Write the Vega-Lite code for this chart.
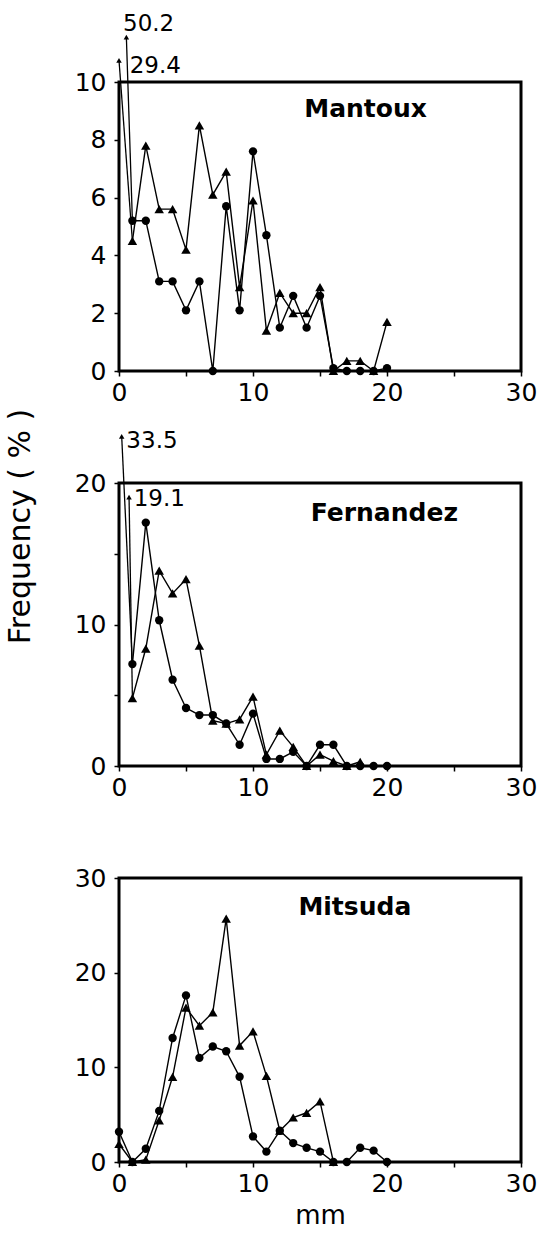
{
  "$schema": "https://vega.github.io/schema/vega-lite/v6.json",
  "padding": {"left": 3, "top": 11, "right": 5, "bottom": 0},
  "background": "white",
  "bounds": "flush",
  "spacing": 112,
  "config": {
    "font": "DejaVu Sans",
    "view": {"stroke": "black", "strokeWidth": 3},
    "axis": {"grid": false, "domain": false, "tickColor": "black", "tickWidth": 1.5, "tickSize": 5, "labelColor": "black", "labelFontSize": 25, "labelFont": "DejaVu Sans", "labelOverlap": false, "labelFlush": false, "titleColor": "black", "titleFontWeight": "normal", "titleFont": "DejaVu Sans"},
    "axisY": {"labelPadding": 8},
    "axisX": {"labelPadding": 4}
  },
  "datasets": {
    "freq": [
      {"panel":"Mantoux","group":"Group 1","mm":0,"freq":50.2},{"panel":"Mantoux","group":"Group 1","mm":1,"freq":5.2},{"panel":"Mantoux","group":"Group 1","mm":2,"freq":5.2},{"panel":"Mantoux","group":"Group 1","mm":3,"freq":3.1},{"panel":"Mantoux","group":"Group 1","mm":4,"freq":3.1},{"panel":"Mantoux","group":"Group 1","mm":5,"freq":2.1},{"panel":"Mantoux","group":"Group 1","mm":6,"freq":3.1},{"panel":"Mantoux","group":"Group 1","mm":7,"freq":0},{"panel":"Mantoux","group":"Group 1","mm":8,"freq":5.7},{"panel":"Mantoux","group":"Group 1","mm":9,"freq":2.1},{"panel":"Mantoux","group":"Group 1","mm":10,"freq":7.6},{"panel":"Mantoux","group":"Group 1","mm":11,"freq":4.7},{"panel":"Mantoux","group":"Group 1","mm":12,"freq":1.5},{"panel":"Mantoux","group":"Group 1","mm":13,"freq":2.6},{"panel":"Mantoux","group":"Group 1","mm":14,"freq":1.5},{"panel":"Mantoux","group":"Group 1","mm":15,"freq":2.6},{"panel":"Mantoux","group":"Group 1","mm":16,"freq":0.1},{"panel":"Mantoux","group":"Group 1","mm":17,"freq":0},{"panel":"Mantoux","group":"Group 1","mm":18,"freq":0},{"panel":"Mantoux","group":"Group 1","mm":19,"freq":0},{"panel":"Mantoux","group":"Group 1","mm":20,"freq":0.1},
      {"panel":"Mantoux","group":"Group 2","mm":0,"freq":29.4},{"panel":"Mantoux","group":"Group 2","mm":1,"freq":4.5},{"panel":"Mantoux","group":"Group 2","mm":2,"freq":7.8},{"panel":"Mantoux","group":"Group 2","mm":3,"freq":5.6},{"panel":"Mantoux","group":"Group 2","mm":4,"freq":5.6},{"panel":"Mantoux","group":"Group 2","mm":5,"freq":4.2},{"panel":"Mantoux","group":"Group 2","mm":6,"freq":8.5},{"panel":"Mantoux","group":"Group 2","mm":7,"freq":6.1},{"panel":"Mantoux","group":"Group 2","mm":8,"freq":6.9},{"panel":"Mantoux","group":"Group 2","mm":9,"freq":2.9},{"panel":"Mantoux","group":"Group 2","mm":10,"freq":5.9},{"panel":"Mantoux","group":"Group 2","mm":11,"freq":1.4},{"panel":"Mantoux","group":"Group 2","mm":12,"freq":2.7},{"panel":"Mantoux","group":"Group 2","mm":13,"freq":2.0},{"panel":"Mantoux","group":"Group 2","mm":14,"freq":2.0},{"panel":"Mantoux","group":"Group 2","mm":15,"freq":2.9},{"panel":"Mantoux","group":"Group 2","mm":16,"freq":0},{"panel":"Mantoux","group":"Group 2","mm":17,"freq":0.35},{"panel":"Mantoux","group":"Group 2","mm":18,"freq":0.35},{"panel":"Mantoux","group":"Group 2","mm":19,"freq":0},{"panel":"Mantoux","group":"Group 2","mm":20,"freq":1.7},
      {"panel":"Fernandez","group":"Group 1","mm":0,"freq":33.5},{"panel":"Fernandez","group":"Group 1","mm":1,"freq":7.2},{"panel":"Fernandez","group":"Group 1","mm":2,"freq":17.2},{"panel":"Fernandez","group":"Group 1","mm":3,"freq":10.3},{"panel":"Fernandez","group":"Group 1","mm":4,"freq":6.1},{"panel":"Fernandez","group":"Group 1","mm":5,"freq":4.1},{"panel":"Fernandez","group":"Group 1","mm":6,"freq":3.6},{"panel":"Fernandez","group":"Group 1","mm":7,"freq":3.6},{"panel":"Fernandez","group":"Group 1","mm":8,"freq":3.0},{"panel":"Fernandez","group":"Group 1","mm":9,"freq":1.5},{"panel":"Fernandez","group":"Group 1","mm":10,"freq":3.7},{"panel":"Fernandez","group":"Group 1","mm":11,"freq":0.5},{"panel":"Fernandez","group":"Group 1","mm":12,"freq":0.5},{"panel":"Fernandez","group":"Group 1","mm":13,"freq":1.0},{"panel":"Fernandez","group":"Group 1","mm":14,"freq":0},{"panel":"Fernandez","group":"Group 1","mm":15,"freq":1.5},{"panel":"Fernandez","group":"Group 1","mm":16,"freq":1.5},{"panel":"Fernandez","group":"Group 1","mm":17,"freq":0},{"panel":"Fernandez","group":"Group 1","mm":18,"freq":0},{"panel":"Fernandez","group":"Group 1","mm":19,"freq":0},{"panel":"Fernandez","group":"Group 1","mm":20,"freq":0},
      {"panel":"Fernandez","group":"Group 2","mm":0,"freq":19.1},{"panel":"Fernandez","group":"Group 2","mm":1,"freq":4.8},{"panel":"Fernandez","group":"Group 2","mm":2,"freq":8.3},{"panel":"Fernandez","group":"Group 2","mm":3,"freq":13.8},{"panel":"Fernandez","group":"Group 2","mm":4,"freq":12.2},{"panel":"Fernandez","group":"Group 2","mm":5,"freq":13.2},{"panel":"Fernandez","group":"Group 2","mm":6,"freq":8.5},{"panel":"Fernandez","group":"Group 2","mm":7,"freq":3.2},{"panel":"Fernandez","group":"Group 2","mm":8,"freq":3.0},{"panel":"Fernandez","group":"Group 2","mm":9,"freq":3.3},{"panel":"Fernandez","group":"Group 2","mm":10,"freq":4.9},{"panel":"Fernandez","group":"Group 2","mm":11,"freq":0.8},{"panel":"Fernandez","group":"Group 2","mm":12,"freq":2.5},{"panel":"Fernandez","group":"Group 2","mm":13,"freq":1.35},{"panel":"Fernandez","group":"Group 2","mm":14,"freq":0},{"panel":"Fernandez","group":"Group 2","mm":15,"freq":0.8},{"panel":"Fernandez","group":"Group 2","mm":16,"freq":0.35},{"panel":"Fernandez","group":"Group 2","mm":17,"freq":0},{"panel":"Fernandez","group":"Group 2","mm":18,"freq":0.3},
      {"panel":"Mitsuda","group":"Group 1","mm":0,"freq":3.2},{"panel":"Mitsuda","group":"Group 1","mm":1,"freq":0},{"panel":"Mitsuda","group":"Group 1","mm":2,"freq":1.4},{"panel":"Mitsuda","group":"Group 1","mm":3,"freq":5.4},{"panel":"Mitsuda","group":"Group 1","mm":4,"freq":13.1},{"panel":"Mitsuda","group":"Group 1","mm":5,"freq":17.6},{"panel":"Mitsuda","group":"Group 1","mm":6,"freq":11.0},{"panel":"Mitsuda","group":"Group 1","mm":7,"freq":12.2},{"panel":"Mitsuda","group":"Group 1","mm":8,"freq":11.7},{"panel":"Mitsuda","group":"Group 1","mm":9,"freq":9.0},{"panel":"Mitsuda","group":"Group 1","mm":10,"freq":2.7},{"panel":"Mitsuda","group":"Group 1","mm":11,"freq":1.1},{"panel":"Mitsuda","group":"Group 1","mm":12,"freq":3.3},{"panel":"Mitsuda","group":"Group 1","mm":13,"freq":2.0},{"panel":"Mitsuda","group":"Group 1","mm":14,"freq":1.5},{"panel":"Mitsuda","group":"Group 1","mm":15,"freq":1.1},{"panel":"Mitsuda","group":"Group 1","mm":16,"freq":0},{"panel":"Mitsuda","group":"Group 1","mm":17,"freq":0},{"panel":"Mitsuda","group":"Group 1","mm":18,"freq":1.5},{"panel":"Mitsuda","group":"Group 1","mm":19,"freq":1.2},{"panel":"Mitsuda","group":"Group 1","mm":20,"freq":0},
      {"panel":"Mitsuda","group":"Group 2","mm":0,"freq":1.9},{"panel":"Mitsuda","group":"Group 2","mm":1,"freq":0},{"panel":"Mitsuda","group":"Group 2","mm":2,"freq":0.25},{"panel":"Mitsuda","group":"Group 2","mm":3,"freq":4.4},{"panel":"Mitsuda","group":"Group 2","mm":4,"freq":9.0},{"panel":"Mitsuda","group":"Group 2","mm":5,"freq":16.3},{"panel":"Mitsuda","group":"Group 2","mm":6,"freq":14.4},{"panel":"Mitsuda","group":"Group 2","mm":7,"freq":15.8},{"panel":"Mitsuda","group":"Group 2","mm":8,"freq":25.7},{"panel":"Mitsuda","group":"Group 2","mm":9,"freq":12.3},{"panel":"Mitsuda","group":"Group 2","mm":10,"freq":13.8},{"panel":"Mitsuda","group":"Group 2","mm":11,"freq":9.1},{"panel":"Mitsuda","group":"Group 2","mm":12,"freq":3.3},{"panel":"Mitsuda","group":"Group 2","mm":13,"freq":4.7},{"panel":"Mitsuda","group":"Group 2","mm":14,"freq":5.2},{"panel":"Mitsuda","group":"Group 2","mm":15,"freq":6.4},{"panel":"Mitsuda","group":"Group 2","mm":16,"freq":0}
    ],
    "arrows": [
      {"panel":"Mantoux","x":1,"y":4.5,"x2":0,"y2":10.75},
      {"panel":"Mantoux","x":1,"y":5.2,"x2":0.55,"y2":11.55},
      {"panel":"Fernandez","x":1,"y":7.2,"x2":0.2,"y2":23.3},
      {"panel":"Fernandez","x":1,"y":4.8,"x2":0.75,"y2":19.0}
    ],
    "labels": [
      {"panel":"Mantoux","x":0.8,"y":10.3,"text":"29.4"},
      {"panel":"Mantoux","x":0.3,"y":11.76,"text":"50.2"},
      {"panel":"Fernandez","x":0.55,"y":22.5,"text":"33.5"},
      {"panel":"Fernandez","x":1.1,"y":18.4,"text":"19.1"}
    ],
    "panels": [
      {"panel":"Mantoux","x":18.4,"y":9.07},
      {"panel":"Fernandez","x":19.8,"y":17.9},
      {"panel":"Mitsuda","x":17.6,"y":26.9}
    ]
  },
  "vconcat": [
    {
      "width": 402, "height": 289,
      "layer": [
        {"data": {"name": "freq"}, "transform": [{"filter": "datum.panel === 'Mantoux' && datum.mm > 0"}],
         "mark": {"type": "line", "color": "black", "strokeWidth": 1.4, "clip": true},
         "encoding": {
           "x": {"field": "mm", "type": "quantitative", "title": null, "scale": {"domain": [0, 30], "nice": false, "zero": false}, "axis": {"values": [0,5,10,15,20,25,30], "labelExpr": "datum.value % 10 === 0 ? datum.label : ''", "title": null}},
           "y": {"field": "freq", "type": "quantitative", "title": null, "scale": {"domain": [0, 10], "nice": false}, "axis": {"values": [0,1,2,3,4,5,6,7,8,9,10], "labelExpr": "datum.value % 2 === 0 ? datum.label : ''", "title": null}},
           "detail": {"field": "group"}}},
        {"data": {"name": "freq"}, "transform": [{"filter": "datum.panel === 'Mantoux' && datum.mm > 0 && datum.group === 'Group 1'"}],
         "mark": {"type": "point", "filled": true, "shape": "circle", "size": 70, "color": "black", "opacity": 1},
         "encoding": {"x": {"field": "mm", "type": "quantitative", "title": null}, "y": {"field": "freq", "type": "quantitative", "title": null}}},
        {"data": {"name": "freq"}, "transform": [{"filter": "datum.panel === 'Mantoux' && datum.mm > 0 && datum.group === 'Group 2'"}],
         "mark": {"type": "point", "filled": true, "shape": "triangle-up", "size": 90, "color": "black", "opacity": 1},
         "encoding": {"x": {"field": "mm", "type": "quantitative", "title": null}, "y": {"field": "freq", "type": "quantitative", "title": null}}},
        {"data": {"name": "arrows"}, "transform": [{"filter": "datum.panel === 'Mantoux'"}],
         "mark": {"type": "rule", "color": "black", "strokeWidth": 1.3},
         "encoding": {"x": {"field": "x", "type": "quantitative", "title": null}, "y": {"field": "y", "type": "quantitative", "title": null}, "x2": {"field": "x2"}, "y2": {"field": "y2"}}},
        {"data": {"name": "arrows"}, "transform": [{"filter": "datum.panel === 'Mantoux'"}],
         "mark": {"type": "point", "filled": true, "shape": "triangle-up", "size": 30, "color": "black", "opacity": 1},
         "encoding": {"x": {"field": "x2", "type": "quantitative", "title": null}, "y": {"field": "y2", "type": "quantitative", "title": null}}},
        {"data": {"name": "labels"}, "transform": [{"filter": "datum.panel === 'Mantoux'"}],
         "mark": {"type": "text", "align": "left", "baseline": "alphabetic", "fontSize": 23, "color": "black", "font": "DejaVu Sans"},
         "encoding": {"x": {"field": "x", "type": "quantitative", "title": null}, "y": {"field": "y", "type": "quantitative", "title": null}, "text": {"field": "text"}}},
        {"data": {"name": "panels"}, "transform": [{"filter": "datum.panel === 'Mantoux'"}],
         "mark": {"type": "text", "align": "center", "baseline": "middle", "fontSize": 25, "fontWeight": "bold", "color": "black", "font": "DejaVu Sans"},
         "encoding": {"x": {"field": "x", "type": "quantitative", "title": null}, "y": {"field": "y", "type": "quantitative", "title": null}, "text": {"field": "panel"}}}
      ]
    },
    {
      "width": 402, "height": 283,
      "layer": [
        {"data": {"name": "freq"}, "transform": [{"filter": "datum.panel === 'Fernandez' && datum.mm > 0"}],
         "mark": {"type": "line", "color": "black", "strokeWidth": 1.4, "clip": true},
         "encoding": {
           "x": {"field": "mm", "type": "quantitative", "title": null, "scale": {"domain": [0, 30], "nice": false, "zero": false}, "axis": {"values": [0,5,10,15,20,25,30], "labelExpr": "datum.value % 10 === 0 ? datum.label : ''", "title": null}},
           "y": {"field": "freq", "type": "quantitative", "title": "Frequency ( % )", "scale": {"domain": [0, 20], "nice": false}, "axis": {"values": [0,5,10,15,20], "labelExpr": "datum.value % 10 === 0 ? datum.label : ''", "title": "Frequency ( % )", "titleFontSize": 30, "titleAngle": 270, "titleAlign": "center", "titleBaseline": "alphabetic", "titleX": -90, "titleY": 43}},
           "detail": {"field": "group"}}},
        {"data": {"name": "freq"}, "transform": [{"filter": "datum.panel === 'Fernandez' && datum.mm > 0 && datum.group === 'Group 1'"}],
         "mark": {"type": "point", "filled": true, "shape": "circle", "size": 70, "color": "black", "opacity": 1},
         "encoding": {"x": {"field": "mm", "type": "quantitative"}, "y": {"field": "freq", "type": "quantitative"}}},
        {"data": {"name": "freq"}, "transform": [{"filter": "datum.panel === 'Fernandez' && datum.mm > 0 && datum.group === 'Group 2'"}],
         "mark": {"type": "point", "filled": true, "shape": "triangle-up", "size": 90, "color": "black", "opacity": 1},
         "encoding": {"x": {"field": "mm", "type": "quantitative"}, "y": {"field": "freq", "type": "quantitative"}}},
        {"data": {"name": "arrows"}, "transform": [{"filter": "datum.panel === 'Fernandez'"}],
         "mark": {"type": "rule", "color": "black", "strokeWidth": 1.3},
         "encoding": {"x": {"field": "x", "type": "quantitative"}, "y": {"field": "y", "type": "quantitative"}, "x2": {"field": "x2"}, "y2": {"field": "y2"}}},
        {"data": {"name": "arrows"}, "transform": [{"filter": "datum.panel === 'Fernandez'"}],
         "mark": {"type": "point", "filled": true, "shape": "triangle-up", "size": 30, "color": "black", "opacity": 1},
         "encoding": {"x": {"field": "x2", "type": "quantitative"}, "y": {"field": "y2", "type": "quantitative"}}},
        {"data": {"name": "labels"}, "transform": [{"filter": "datum.panel === 'Fernandez'"}],
         "mark": {"type": "text", "align": "left", "baseline": "alphabetic", "fontSize": 23, "color": "black", "font": "DejaVu Sans"},
         "encoding": {"x": {"field": "x", "type": "quantitative"}, "y": {"field": "y", "type": "quantitative"}, "text": {"field": "text"}}},
        {"data": {"name": "panels"}, "transform": [{"filter": "datum.panel === 'Fernandez'"}],
         "mark": {"type": "text", "align": "center", "baseline": "middle", "fontSize": 25, "fontWeight": "bold", "color": "black", "font": "DejaVu Sans"},
         "encoding": {"x": {"field": "x", "type": "quantitative"}, "y": {"field": "y", "type": "quantitative"}, "text": {"field": "panel"}}}
      ]
    },
    {
      "width": 402, "height": 284,
      "layer": [
        {"data": {"name": "freq"}, "transform": [{"filter": "datum.panel === 'Mitsuda'"}],
         "mark": {"type": "line", "color": "black", "strokeWidth": 1.4, "clip": true},
         "encoding": {
           "x": {"field": "mm", "type": "quantitative", "title": "mm", "scale": {"domain": [0, 30], "nice": false, "zero": false}, "axis": {"values": [0,5,10,15,20,25,30], "labelExpr": "datum.value % 10 === 0 ? datum.label : ''", "title": "mm", "titleFontSize": 26, "titlePadding": 6}},
           "y": {"field": "freq", "type": "quantitative", "title": null, "scale": {"domain": [0, 30], "nice": false}, "axis": {"values": [0,10,20,30], "title": null}},
           "detail": {"field": "group"}}},
        {"data": {"name": "freq"}, "transform": [{"filter": "datum.panel === 'Mitsuda' && datum.group === 'Group 1'"}],
         "mark": {"type": "point", "filled": true, "shape": "circle", "size": 70, "color": "black", "opacity": 1},
         "encoding": {"x": {"field": "mm", "type": "quantitative"}, "y": {"field": "freq", "type": "quantitative"}}},
        {"data": {"name": "freq"}, "transform": [{"filter": "datum.panel === 'Mitsuda' && datum.group === 'Group 2'"}],
         "mark": {"type": "point", "filled": true, "shape": "triangle-up", "size": 90, "color": "black", "opacity": 1},
         "encoding": {"x": {"field": "mm", "type": "quantitative"}, "y": {"field": "freq", "type": "quantitative"}}},
        {"data": {"name": "panels"}, "transform": [{"filter": "datum.panel === 'Mitsuda'"}],
         "mark": {"type": "text", "align": "center", "baseline": "middle", "fontSize": 25, "fontWeight": "bold", "color": "black", "font": "DejaVu Sans"},
         "encoding": {"x": {"field": "x", "type": "quantitative"}, "y": {"field": "y", "type": "quantitative"}, "text": {"field": "panel"}}}
      ]
    }
  ]
}
